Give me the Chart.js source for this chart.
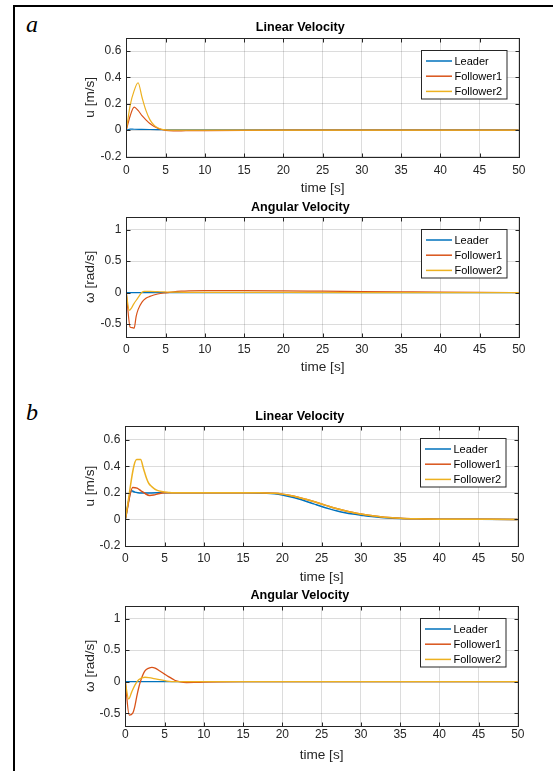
<!DOCTYPE html>
<html><head><meta charset="utf-8">
<script src="https://cdn.jsdelivr.net/npm/chart.js@4.4.1/dist/chart.umd.min.js"></script>
<style>
html,body{margin:0;padding:0;background:#fff;}
body{width:553px;height:771px;position:relative;overflow:hidden;}
.frame{position:absolute;left:13px;top:5px;width:600px;height:800px;border-left:2px solid #000;border-top:2px solid #000;box-sizing:border-box;}
.tag{position:absolute;font-family:"Liberation Serif","DejaVu Serif",serif;font-style:italic;font-size:24px;line-height:24px;color:#000;}
canvas{position:absolute;left:0;top:0;}
</style></head><body>
<div class="frame"></div>
<span class="tag" style="left:26px;top:12px">a</span>
<span class="tag" style="left:26px;top:400px">b</span>
<canvas id="c1" width="553" height="771"></canvas>
<canvas id="c2" width="553" height="771"></canvas>
<canvas id="c3" width="553" height="771"></canvas>
<canvas id="c4" width="553" height="771"></canvas>
<script>
// ---------- data ----------
const seriesNames = ['Leader', 'Follower1', 'Follower2'];
const timeTicks = [0, 5, 10, 15, 20, 25, 30, 35, 40, 45, 50];
const uTicks = [-0.2, 0, 0.2, 0.4, 0.6];
const wTicks = [-0.5, 0, 0.5, 1];

// (a) linear velocity
const aU_t_leader = [0, 0.5, 1, 2, 3, 4, 5, 10, 20, 30, 40, 50];
const aU_leader   = [0, 0.008, 0.007, 0.006, 0.005, 0.004, 0.003, 0.002, 0.002, 0.002, 0.002, 0.002];
const aU_t_f1 = [0, 0.5, 1.0, 1.5, 2.0, 2.5, 3.0, 3.5, 4.0, 4.5, 5, 6, 7, 8, 10, 15, 20, 30, 40, 50];
const aU_f1   = [0, 0.11, 0.175, 0.15, 0.11, 0.078, 0.05, 0.03, 0.015, 0.005, -0.002, -0.005, -0.005, -0.004, -0.003, -0.001, 0, 0, 0, 0];
const aU_t_f2 = [0, 0.5, 1.0, 1.5, 2.0, 2.5, 3.0, 3.5, 4.0, 4.5, 5, 6, 8, 10, 20, 30, 40, 50];
const aU_f2   = [0, 0.19, 0.30, 0.36, 0.25, 0.15, 0.08, 0.04, 0.018, 0.007, 0.002, 0, 0, 0, 0, 0, 0, 0];

// (a) angular velocity
const aW_t_leader = [0, 50];
const aW_leader   = [0, 0];
const aW_t_f1 = [0, 0.5, 0.75, 1.0, 1.25, 1.5, 2, 2.5, 3, 3.5, 4, 5, 6, 7, 8, 10, 15, 20, 25, 30, 35, 40, 45, 50];
const aW_f1   = [0, -0.55, -0.555, -0.565, -0.38, -0.27, -0.15, -0.09, -0.06, -0.038, -0.022, -0.003, 0.012, 0.022, 0.027, 0.03, 0.03, 0.027, 0.022, 0.017, 0.012, 0.007, 0.003, 0.001];
const aW_t_f2 = [0, 0.38, 1.0, 1.5, 2.0, 2.3, 3, 4, 5, 6, 8, 10, 20, 30, 40, 50];
const aW_f2   = [0, -0.28, -0.17, -0.08, 0.005, 0.02, 0.02, 0.015, 0.01, 0.006, 0.004, 0.003, 0.002, 0.001, 0, 0];

// (b) linear velocity
const bU_t_leader = [0, 0.8, 1.2, 1.6, 2, 3, 4, 5, 10, 15, 17, 18, 19, 20, 21, 22, 23, 24, 25, 26, 27, 28, 29, 30, 31, 32, 33, 35, 37, 40, 45, 50];
const bU_leader   = [0, 0.215, 0.205, 0.2, 0.198, 0.199, 0.2, 0.2, 0.2, 0.2, 0.199, 0.197, 0.192, 0.183, 0.17, 0.155, 0.137, 0.117, 0.097, 0.079, 0.063, 0.05, 0.04, 0.032, 0.024, 0.018, 0.013, 0.007, 0.004, 0.002, 0.001, 0];
const bU_t_f1 = [0, 0.95, 1.5, 2, 2.5, 3.1, 3.6, 4.2, 5, 6, 10, 15, 17, 18, 19, 20, 21, 22, 23, 24, 25, 26, 27, 28, 29, 30, 31, 32, 33, 35, 37, 40, 45, 50];
const bU_f1   = [0, 0.24, 0.235, 0.215, 0.195, 0.18, 0.183, 0.193, 0.2, 0.2, 0.2, 0.2, 0.2, 0.199, 0.196, 0.19, 0.18, 0.167, 0.151, 0.134, 0.116, 0.097, 0.08, 0.065, 0.052, 0.041, 0.031, 0.023, 0.017, 0.009, 0.005, 0.002, 0.001, 0];
const bU_t_f2 = [0, 1.45, 1.95, 2.3, 2.7, 3.0, 3.4, 4.0, 4.8, 5.5, 6, 10, 15, 17, 18, 19, 20, 21, 22, 23, 24, 25, 26, 27, 28, 29, 30, 31, 32, 33, 35, 37, 40, 45, 50];
const bU_f2   = [0, 0.45, 0.45, 0.385, 0.31, 0.27, 0.245, 0.22, 0.208, 0.203, 0.2, 0.2, 0.2, 0.2, 0.199, 0.196, 0.19, 0.18, 0.167, 0.151, 0.134, 0.116, 0.097, 0.08, 0.065, 0.052, 0.041, 0.031, 0.023, 0.017, 0.009, 0.005, 0.002, 0.001, 0];

// (b) angular velocity
const bW_t_leader = [0, 50];
const bW_leader   = [0, 0];
const bW_t_f1 = [0, 0.5, 0.95, 1.2, 1.45, 1.7, 2.0, 2.5, 3.0, 3.4, 3.8, 4.4, 5.0, 5.5, 6.0, 6.5, 7, 7.8, 9, 10, 12, 15, 50];
const bW_f1   = [0, -0.53, -0.5, -0.4, -0.24, -0.1, 0.03, 0.17, 0.215, 0.228, 0.215, 0.17, 0.12, 0.08, 0.045, 0.012, -0.005, -0.015, -0.012, -0.008, -0.003, 0, 0];
const bW_t_f2 = [0, 0.43, 0.8, 1.24, 1.7, 2.5, 3, 4, 5.3, 6.5, 8, 50];
const bW_f2   = [0, -0.275, -0.17, -0.05, 0.03, 0.07, 0.065, 0.04, 0.01, 0, 0, 0];

// ---------- styling / layout ----------
const colors = ['#0072BD', '#D95319', '#EDB120'];
const FONT = "'Liberation Sans', Arial, Helvetica, sans-serif";
const TXT = '#262626';

const layouts = [
  {id: 'c1', area: {l: 126.3, r: 518.8, t: 38, b: 156.5}, titleY: 27.7, xtickY: 170.7, xlabelY: 188.3, ylabelX: 90},
  {id: 'c2', area: {l: 126.3, r: 518.8, t: 217, b: 336.7}, titleY: 207.7, xtickY: 349.5, xlabelY: 367.3, ylabelX: 90},
  {id: 'c3', area: {l: 125.3, r: 517.8, t: 426.3, b: 546}, titleY: 416.7, xtickY: 559, xlabelY: 577.7, ylabelX: 90},
  {id: 'c4', area: {l: 125.3, r: 517.8, t: 606, b: 725.8}, titleY: 595.7, xtickY: 735, xlabelY: 755.7, ylabelX: 90}
];

const plots = [
  {title: 'Linear Velocity', ylabel: 'u [m/s]', ymin: -0.2, ymax: 0.7, yticks: uTicks, lw: 1.2,
   series: [[aU_t_leader, aU_leader], [aU_t_f1, aU_f1], [aU_t_f2, aU_f2]]},
  {title: 'Angular Velocity', ylabel: 'ω [rad/s]', ymin: -0.7, ymax: 1.2, yticks: wTicks, lw: 1.2,
   series: [[aW_t_leader, aW_leader], [aW_t_f1, aW_f1], [aW_t_f2, aW_f2]]},
  {title: 'Linear Velocity', ylabel: 'u [m/s]', ymin: -0.2, ymax: 0.7, yticks: uTicks, lw: 1.5,
   series: [[bU_t_leader, bU_leader], [bU_t_f1, bU_f1], [bU_t_f2, bU_f2]]},
  {title: 'Angular Velocity', ylabel: 'ω [rad/s]', ymin: -0.7, ymax: 1.2, yticks: wTicks, lw: 1.3,
   series: [[bW_t_leader, bW_leader], [bW_t_f1, bW_f1], [bW_t_f2, bW_f2]]}
];

const matlabAxes = {
  id: 'matlabAxes',
  afterDatasetsDraw(chart) {
    const {ctx, chartArea: a, scales: {x, y}} = chart;
    ctx.save();
    ctx.strokeStyle = TXT;
    ctx.lineWidth = 1;
    ctx.beginPath();
    const L = Math.round(a.left) + 0.5, R = Math.round(a.right) + 0.5;
    const T = Math.round(a.top) + 0.5, B = Math.round(a.bottom) + 0.5;
    x.ticks.forEach(t => {
      const px = Math.round(x.getPixelForValue(t.value)) + 0.5;
      ctx.moveTo(px, B); ctx.lineTo(px, B - 4);
      ctx.moveTo(px, T); ctx.lineTo(px, T + 4);
    });
    y.ticks.forEach(t => {
      const py = Math.round(y.getPixelForValue(t.value)) + 0.5;
      ctx.moveTo(L, py); ctx.lineTo(L + 4, py);
      ctx.moveTo(R, py); ctx.lineTo(R - 4, py);
    });
    ctx.stroke();
    ctx.strokeRect(L, T, R - L, B - T);

    // legend box inside the axes (north-east)
    const w = 85.5, h = 48.5;
    const bx = Math.round(a.right - 12 - w) + 0.5, by = Math.round(a.top + 11.5) + 0.5;
    ctx.fillStyle = '#fff';
    ctx.fillRect(bx, by, w, h);
    ctx.strokeStyle = TXT;
    ctx.strokeRect(bx, by, w, h);
    ctx.font = '11px ' + FONT;
    ctx.textBaseline = 'middle';
    ctx.textAlign = 'left';
    chart.data.datasets.forEach((ds, i) => {
      const cy = by + 10.5 + i * 15.2;
      ctx.strokeStyle = ds.borderColor;
      ctx.lineWidth = 1.5;
      ctx.beginPath();
      ctx.moveTo(bx + 4.5, cy); ctx.lineTo(bx + 30.5, cy);
      ctx.stroke();
      ctx.fillStyle = '#000';
      ctx.fillText(ds.label, bx + 33, cy + 0.5);
    });
    ctx.restore();
  }
};

function makeChart(lay, p) {
  const FT = 12.6, FX = 13.6, FK = 12;
  const lhT = FT * 1.2, lhX = FX * 1.2, lhK = FK * 1.2;
  const a = lay.area;
  const padTop = lay.titleY - lhT / 2;
  const padLeft = lay.ylabelX - lhX / 2;
  const padBottom = 771 - (lay.xlabelY + lhX / 2);
  const padRight = 553 - a.r;
  const titlePB = a.t - padTop - lhT;
  const yW = a.l - padLeft;
  const xH = lay.xlabelY + lhX / 2 - a.b;
  const xTickPad = lay.xtickY - a.b - lhK / 2;

  const datasets = p.series.map((s, i) => ({
    label: seriesNames[i],
    data: s[0].map((t, k) => ({x: t, y: s[1][k]})),
    borderColor: colors[i],
    backgroundColor: colors[i],
    borderWidth: p.lw,
    pointRadius: 0,
    fill: false,
    cubicInterpolationMode: 'monotone',
    order: 3 - i
  }));

  new Chart(document.getElementById(lay.id), {
    type: 'line',
    data: {datasets},
    plugins: [matlabAxes],
    options: {
      responsive: false,
      animation: false,
      events: [],
      layout: {padding: {left: padLeft, top: padTop, right: padRight, bottom: padBottom}},
      plugins: {
        legend: {display: false},
        tooltip: {enabled: false},
        title: {display: true, text: p.title, color: '#000',
          font: {family: FONT, size: FT, weight: 'bold', lineHeight: 1.2},
          padding: {top: 0, bottom: titlePB}}
      },
      scales: {
        x: {
          type: 'linear', min: 0, max: 50,
          afterBuildTicks: sc => { sc.ticks = timeTicks.map(v => ({value: v})); },
          afterFit: sc => { sc.height = xH; },
          ticks: {autoSkip: false, maxRotation: 0, minRotation: 0, padding: xTickPad, color: TXT,
            font: {family: FONT, size: FK, lineHeight: 1.2}, callback: v => String(v)},
          grid: {color: 'rgba(38,38,38,0.16)', lineWidth: 1, drawTicks: false},
          border: {display: false},
          title: {display: true, text: 'time [s]', color: TXT, padding: 0,
            font: {family: FONT, size: FX, lineHeight: 1.2}}
        },
        y: {
          type: 'linear', min: p.ymin, max: p.ymax,
          afterBuildTicks: sc => { sc.ticks = p.yticks.map(v => ({value: v})); },
          afterFit: sc => { sc.width = yW; },
          ticks: {padding: 5, color: TXT, font: {family: FONT, size: FK, lineHeight: 1.2},
            callback: v => String(v)},
          grid: {color: 'rgba(38,38,38,0.16)', lineWidth: 1, drawTicks: false},
          border: {display: false},
          title: {display: true, text: p.ylabel, color: TXT, padding: 0,
            font: {family: FONT, size: FX, lineHeight: 1.2}}
        }
      }
    }
  });
}

layouts.forEach((lay, i) => makeChart(lay, plots[i]));
</script>
</body></html>
